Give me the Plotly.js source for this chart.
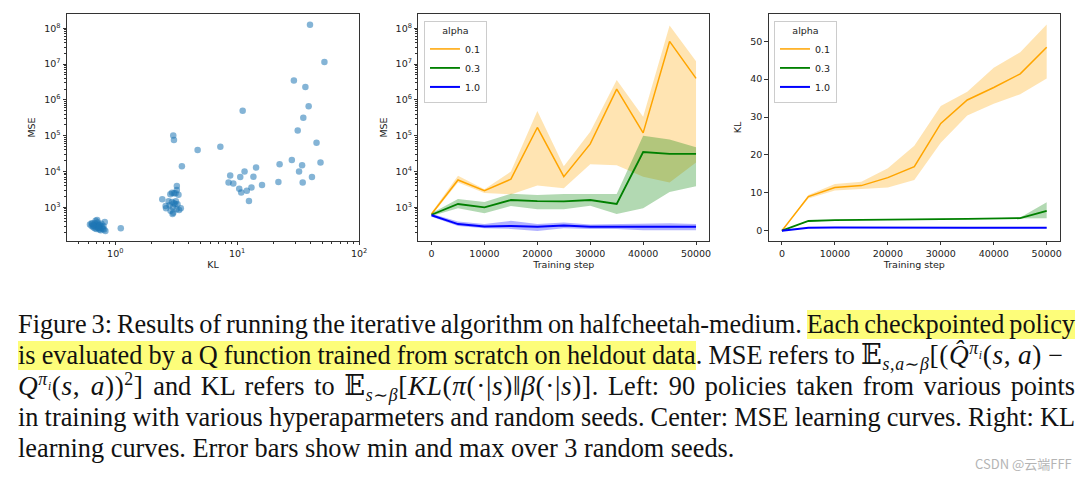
<!DOCTYPE html>
<html>
<head>
<meta charset="utf-8">
<script src="https://cdn.plot.ly/plotly-3.0.1.min.js"></script>
<style>
  body { margin: 0; background: #fff; }
  #wrap { position: relative; width: 1086px; height: 479px; overflow: hidden; }
  #chart { position: absolute; left: 0; top: 0; width: 1086px; height: 479px; }
  #caption {
    position: absolute; left: 18px; top: 309px; width: 1057px;
    font-family: "Liberation Serif", "DejaVu Serif", serif; font-size: 26.3px;
    line-height: 31px; color: #111;
  }
  #caption .ln { white-space: nowrap; text-align: justify; text-align-last: justify; word-spacing: -1px; }
  #caption .ln.first { word-spacing: -2px; }
  #caption .ln.short { margin-right: 12px; }
  #caption .ln.last { text-align: left; text-align-last: left; word-spacing: 0; }
  #caption mark { background: #fdfd7a; color: inherit; }
  #caption sub, #caption sup { font-size: 65%; line-height: 0; }
  #caption .m { font-size: 1.04em; letter-spacing: 0.6px; }
  #wm {
    position: absolute; left: 975px; top: 454px;
    font-family: "Noto Sans CJK SC", sans-serif; font-size: 13px; color: #b4b4b4;
  }
</style>
</head>
<body>
<div id="wrap">
  <div id="chart"></div>
  <div id="caption">
    <div class="ln first">Figure 3: Results of running the iterative algorithm on halfcheetah-medium. <mark>Each checkpointed policy</mark></div>
    <div class="ln short"><mark>is evaluated by a Q function trained from scratch on heldout data</mark>. MSE refers to <span class="m">𝔼<sub><i>s</i>,<i>a</i>∼<i>β</i></sub>[(<i>Q̂</i><sup><i>π<sub>i</sub></i></sup>(<i>s</i>,&nbsp;<i>a</i>)</span> −</div>
    <div class="ln"><span class="m"><i>Q</i><sup><i>π<sub>i</sub></i></sup>(<i>s</i>,&nbsp;<i>a</i>))<sup>2</sup>]</span> and KL refers to <span class="m">𝔼<sub><i>s</i>∼<i>β</i></sub>[<i>KL</i>(<i>π</i>(·|<i>s</i>)‖<i>β</i>(·|<i>s</i>)]</span>. Left: 90 policies taken from various points</div>
    <div class="ln">in training with various hyperaparmeters and random seeds. Center: MSE learning curves. Right: KL</div>
    <div class="ln last">learning curves. Error bars show min and max over 3 random seeds.</div>
  </div>
  <div id="wm">CSDN @云端FFF</div>
</div>
<script>
// left panel: 90 policies (KL vs MSE)
const policyKL = [
  39.6, 52, 29.2, 36.3, 38.6, 34.9, 31.4, 11.1, 2.99, 3.03, 4.74, 7.28, 3.52, 44.8, 48.3, 28.1, 34.1, 32.2,
  34.5, 41.1, 22.3, 21.8, 14.3, 11.5, 8.77, 10.6, 13.6, 8.5, 9.3, 16.0, 10.4, 10.8, 12.0, 13.1, 12.5,
  3.20, 3.20, 3.30, 2.83, 2.92, 3.03, 3.12, 2.43, 2.74, 2.92, 3.14, 2.59, 2.79, 3.24, 3.10, 2.61, 2.97,
  3.34, 2.84, 3.18, 2.95, 2.99, 3.45, 3.03,
  1.11,
  0.62, 0.64, 0.65, 0.66, 0.67, 0.68, 0.69, 0.70, 0.70, 0.71, 0.72, 0.72, 0.73, 0.74, 0.74, 0.75, 0.76,
  0.77, 0.78, 0.80, 0.82, 0.83, 0.68, 0.71, 0.75, 0.79, 0.66, 0.73, 0.64, 0.81
];
const policyMSE = [
  1.26e8, 1.15e7, 3.5e6, 2.3e6, 6.7e5, 3.2e5, 1.4e5, 5.0e5, 1.02e5, 7.6e4, 4.0e4, 4.9e4, 1.4e4, 6.4e4, 1.8e4, 2.1e4, 1.5e4, 1.0e4,
  4.9e3, 7.0e3, 1.6e4, 5.1e3, 1.3e4, 1.0e4, 7.8e3, 7.0e3, 7.2e3, 4.9e3, 4.6e3, 4.2e3, 3.3e3, 2.6e3, 2.9e3, 3.6e3, 1.5e3,
  3940, 3050, 2260, 2310, 2570, 2460, 2460, 1670, 1470, 1410, 1470, 1090, 1140, 1210, 1240, 940, 1000,
  843, 807, 880, 651, 710, 938, 1300,
  260,
  330, 300, 350, 280, 310, 360, 420, 290, 250, 330, 270, 380, 300, 240, 320, 260, 230,
  350, 280, 300, 390, 220, 260, 440, 310, 250, 310, 270, 360, 240
];

// learning curves
const steps = [0, 5000, 10000, 15000, 20000, 25000, 30000, 35000, 40000, 45000, 50000];
const alphaNames = ['0.1', '0.3', '1.0'];

const mseMean01 = [650, 5800, 2900, 6100, 1.7e5, 7200, 5.9e4, 2.0e6, 1.2e5, 4.3e7, 4.0e6];
const mseHi01   = [720, 7600, 3200, 1.0e4, 4.9e5, 1.4e4, 1.3e5, 3.6e6, 3.4e5, 1.2e8, 1.2e7];
const mseLo01   = [590, 4900, 2500, 2300, 4100, 3400, 1.6e4, 1.5e4, 7200, 4900, 1.8e4];
const mseMean03 = [620, 1240, 1000, 1600, 1500, 1470, 1600, 1240, 3.5e4, 3.1e4, 3.1e4];
const mseHi03   = [680, 1700, 1400, 2400, 2200, 2350, 2350, 2350, 1.0e5, 7.9e4, 4.8e4];
const mseLo03   = [570, 940, 680, 1090, 880, 880, 1100, 650, 940, 2700, 3900];
const mseMean10 = [600, 340, 290, 300, 285, 310, 285, 290, 285, 285, 285];
const mseHi10   = [660, 400, 340, 420, 340, 380, 330, 340, 360, 360, 340];
const mseLo10   = [550, 300, 260, 250, 220, 260, 250, 250, 230, 230, 230];

const klMean01 = [0, 9.0, 11.4, 11.9, 14.0, 16.9, 28.3, 34.5, 37.8, 41.4, 48.4];
const klHi01   = [0, 9.4, 12.3, 12.9, 16.5, 22.4, 32.9, 36.7, 43.0, 47.1, 54.4];
const klLo01   = [0, 8.5, 10.6, 10.9, 11.4, 13.4, 23.2, 30.4, 33.5, 36.0, 40.2];
const klMean03 = [0, 2.55, 2.8, 2.9, 2.95, 3.0, 3.05, 3.1, 3.15, 3.3, 5.2];
const klHi03   = [0, 2.65, 2.9, 3.0, 3.05, 3.1, 3.15, 3.2, 3.25, 3.5, 7.5];
const klLo03   = [0, 2.45, 2.7, 2.8, 2.85, 2.9, 2.95, 3.0, 3.05, 3.2, 3.3];
const klMean10 = [0, 0.75, 0.85, 0.8, 0.8, 0.75, 0.75, 0.75, 0.75, 0.75, 0.75];
const klHi10   = [0, 0.85, 0.95, 0.9, 0.9, 0.85, 0.85, 0.85, 0.85, 0.85, 0.85];
const klLo10   = [0, 0.65, 0.75, 0.7, 0.7, 0.65, 0.65, 0.65, 0.65, 0.65, 0.65];

const mseTickVals = [1e3, 1e4, 1e5, 1e6, 1e7, 1e8];
const mseTickText = ['10<sup>3</sup>', '10<sup>4</sup>', '10<sup>5</sup>', '10<sup>6</sup>', '10<sup>7</sup>', '10<sup>8</sup>'];
const klTickVals = [1, 10, 100];
const klTickText = ['10<sup>0</sup>', '10<sup>1</sup>', '10<sup>2</sup>'];

const colors = ['#ffa500', '#008000', '#0000ff'];
const fills = ['rgba(255,165,0,0.3)', 'rgba(0,128,0,0.3)', 'rgba(0,0,255,0.3)'];
const widths = [1.5, 1.8, 2];

// minor tick positions for log axes (2..9 in each decade)
function minorLog(lo, hi) {
  let out = [];
  for (let p = lo; p < hi; p++) for (let m = 2; m <= 9; m++) out.push(m * Math.pow(10, p));
  return out;
}

let traces = [];
traces.push({
  x: policyKL, y: policyMSE, mode: 'markers', type: 'scatter', xaxis: 'x', yaxis: 'y',
  marker: {color: '#1f77b4', opacity: 0.55, size: 6.5, line: {width: 0}}, showlegend: false
});

function addCurves(means, his, los, xa, ya, legendId) {
  means.forEach((m, i) => {
    traces.push({x: steps, y: los[i], xaxis: xa, yaxis: ya, mode: 'lines', line: {width: 0},
      showlegend: false, hoverinfo: 'skip'});
    traces.push({x: steps, y: his[i], xaxis: xa, yaxis: ya, mode: 'lines', line: {width: 0},
      fill: 'tonexty', fillcolor: fills[i], showlegend: false, hoverinfo: 'skip'});
    traces.push({x: steps, y: m, xaxis: xa, yaxis: ya, mode: 'lines', name: alphaNames[i],
      line: {color: colors[i], width: widths[i]}, legend: legendId});
  });
}
addCurves([mseMean01, mseMean03, mseMean10], [mseHi01, mseHi03, mseHi10], [mseLo01, mseLo03, mseLo10], 'x2', 'y2', 'legend');
addCurves([klMean01, klMean03, klMean10], [klHi01, klHi03, klHi10], [klLo01, klLo03, klLo10], 'x3', 'y3', 'legend2');

const font = {family: 'DejaVu Sans, sans-serif', size: 9.5, color: '#222'};
const base = {
  showline: true, mirror: true, linecolor: '#333', linewidth: 1, showgrid: false, zeroline: false,
  ticks: 'outside', ticklen: 3.5, tickcolor: '#333', tickfont: font, automargin: false
};
const yDom = [0.4969, 0.9708];
const legendBase = {
  bgcolor: 'rgba(255,255,255,0.8)', bordercolor: '#cccccc', borderwidth: 1, traceorder: 'normal',
  font: font, xanchor: 'left', yanchor: 'top', y: 0.956, itemwidth: 30, tracegroupgap: 0,
  title: {text: 'alpha', side: 'top center', font: font}
};

const layout = {
  width: 1086, height: 479, paper_bgcolor: 'rgba(0,0,0,0)', plot_bgcolor: '#fff',
  margin: {l: 0, r: 0, t: 0, b: 0}, font: font,
  xaxis: Object.assign({}, base, {
    domain: [0.0617, 0.3306], type: 'log', range: [-0.396, 2],
    tickmode: 'array', tickvals: klTickVals, ticktext: klTickText,
    minor: {tickmode: 'array', tickvals: minorLog(-1, 2), ticks: 'outside', ticklen: 2, tickcolor: '#333'},
    title: {text: 'KL', font: font, standoff: 3}
  }),
  yaxis: Object.assign({}, base, {
    domain: yDom, type: 'log', range: [2.06, 8.40],
    tickmode: 'array', tickvals: mseTickVals, ticktext: mseTickText,
    minor: {tickmode: 'array', tickvals: minorLog(2, 8), ticks: 'outside', ticklen: 2, tickcolor: '#333'},
    title: {text: 'MSE', font: font, standoff: 6}
  }),
  xaxis2: Object.assign({}, base, {
    domain: [0.3852, 0.6531], anchor: 'y2', range: [-2500, 52500], dtick: 10000, tickformat: 'd',
    title: {text: 'Training step', font: font, standoff: 3}
  }),
  yaxis2: Object.assign({}, base, {
    domain: yDom, anchor: 'x2', type: 'log', range: [2.06, 8.40],
    tickmode: 'array', tickvals: mseTickVals, ticktext: mseTickText,
    minor: {tickmode: 'array', tickvals: minorLog(2, 8), ticks: 'outside', ticklen: 2, tickcolor: '#333'},
    title: {text: 'MSE', font: font, standoff: 6}
  }),
  xaxis3: Object.assign({}, base, {
    domain: [0.7078, 0.976], anchor: 'y3', range: [-2500, 52500], dtick: 10000, tickformat: 'd',
    title: {text: 'Training step', font: font, standoff: 3}
  }),
  yaxis3: Object.assign({}, base, {
    domain: yDom, anchor: 'x3', range: [-2.72, 57.2], dtick: 10,
    title: {text: 'KL', font: font, standoff: 6}
  }),
  legend: Object.assign({}, legendBase, {x: 0.3904}),
  legend2: Object.assign({}, legendBase, {x: 0.7127}),
  showlegend: true
};

Plotly.newPlot('chart', traces, layout, {staticPlot: true});
</script>
</body>
</html>
